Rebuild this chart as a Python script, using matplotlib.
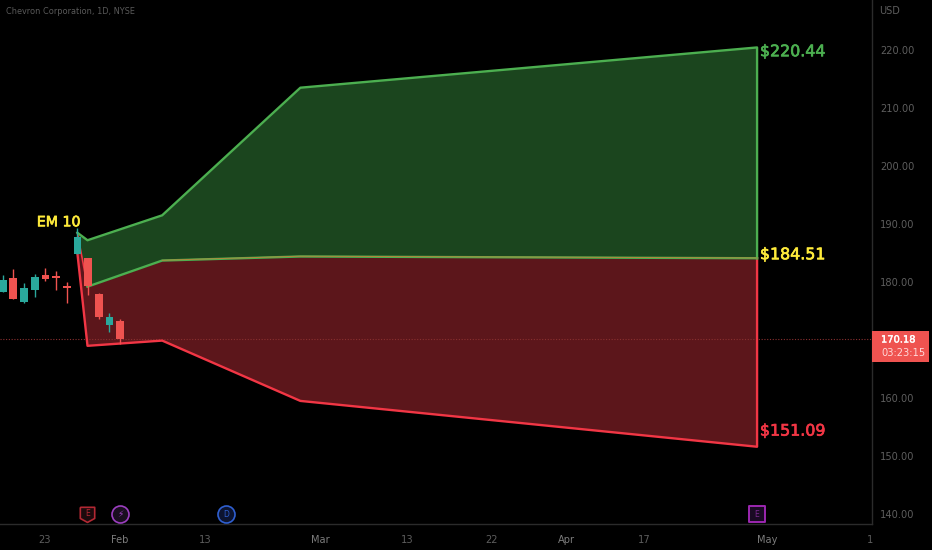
import matplotlib
matplotlib.use("Agg")
import matplotlib.pyplot as plt
import matplotlib.patheffects as pe
from matplotlib.patches import Rectangle

# candles, by bar number
bars = [0, 1, 2, 3, 4, 5, 6, 7, 8, 9, 10, 11]
opens = [178.3, 180.7, 176.5, 178.6, 181.2, 181.0, 179.3, 184.8, 184.1, 178.0, 172.6, 173.2]
closes = [180.3, 177.1, 179.0, 180.8, 180.6, 180.7, 178.9, 187.7, 179.3, 173.9, 173.9, 170.1]
highs = [181.2, 182.2, 179.9, 181.4, 182.5, 181.9, 180.0, 189.3, 184.1, 178.1, 174.6, 173.6]
lows = [178.3, 177.0, 176.4, 177.5, 180.1, 178.7, 176.4, 184.8, 177.8, 173.7, 171.4, 169.3]

# expected move bands
band_x = [7, 7.95, 14.95, 27.9, 70.7]
upper = [188.5, 187.2, 191.5, 213.5, 220.44]
middle = [187.0, 179.2, 183.7, 184.4, 184.1]
lower = [185.0, 169.0, 169.9, 159.5, 151.6]

price_ticks = [140, 150, 160, 180, 190, 200, 210, 220]
date_pos = [3.97, 11, 19, 29.75, 37.9, 45.8, 52.8, 60.1, 71.7, 81.3]
date_labels = ["23", "Feb", "13", "Mar", "13", "22", "Apr", "17", "May", "1"]
month_labels = ["Feb", "Mar", "Apr", "May"]
last_price = 170.18

GREEN = "#4caf50"
RED = "#f23645"
TEAL = "#2aa89c"
CANDLE_RED = "#ef5350"
GREY = "#5e5e5e"

fig = plt.figure(figsize=(9.32, 5.5), dpi=100, facecolor="black")
ax = fig.add_axes([0, 26 / 550, 872 / 932, 524 / 550], facecolor="black")
ax.set_xlim(-0.25, 81.47)
ax.set_ylim(138.28, 228.62)

# bands
ax.fill_between(band_x, middle, upper, color="#1b451e", lw=0, zorder=1)
ax.fill_between(band_x, lower, middle, color="#5c161b", lw=0, zorder=1)
ax.plot(band_x + [band_x[-1]], lower + [middle[-1]], color=RED, lw=1.7, zorder=3)
ax.plot(band_x + [band_x[-1]], upper + [middle[-1]], color=GREEN, lw=1.7, zorder=3)
ax.plot(band_x[1:], middle[1:], color=GREEN, lw=1.7, zorder=4)
ax.plot(band_x[2:], [m + 0.05 for m in middle[2:]], color="#b08a3c", lw=0.7, zorder=4)
ax.plot([band_x[0], band_x[1]], [upper[0], middle[1]], color=RED, lw=1.2, zorder=2)

# last price line
ax.axhline(last_price, color="#8a3030", lw=0.8, ls=(0, (1, 1.5)), zorder=2)

# candles
for b, o, c, h, l in zip(bars, opens, closes, highs, lows):
    col = TEAL if c >= o else CANDLE_RED
    ax.vlines(b, l, h, color=col, lw=1, zorder=5)
    ax.bar(b, abs(c - o), bottom=min(o, c), width=0.72, color=col, lw=0, zorder=5)

# band labels, thin stroke to get the medium weight
def band_label(x, y, s, col, size=11.4):
    t = ax.text(x, y, s, color=col, fontsize=size, va="center", ha="left", zorder=6)
    t.set_path_effects([pe.withStroke(linewidth=0.5, foreground=col)])

band_label(70.97, 219.7, "$220.44", GREEN)
band_label(70.97, 184.7, "$184.51", "#ffeb3b")
band_label(70.97, 154.3, "$151.09", RED)
band_label(3.2, 190.3, "EM 10", "#ffeb3b", 10.2)

# axes
for side in ["top", "left"]:
    ax.spines[side].set_visible(False)
for side in ["right", "bottom"]:
    ax.spines[side].set_color("#2b2b2b")
    ax.spines[side].set_linewidth(1)
ax.yaxis.tick_right()
ax.set_yticks(price_ticks)
ax.set_yticklabels([f"{p:.2f}" for p in price_ticks])
ax.set_xticks(date_pos)
ax.set_xticklabels(date_labels)
ax.tick_params(axis="both", length=0, labelsize=7.1, labelcolor=GREY)
ax.tick_params(axis="y", pad=6)
ax.tick_params(axis="x", pad=8)
for lab in ax.get_xticklabels():
    if lab.get_text() in month_labels:
        lab.set_color("#7c7c7c")

# title and currency
fig.text(6 / 932, 1 - 12 / 550, "Chevron Corporation, 1D, NYSE", color="#5a5a5a", fontsize=5.9, va="center")
fig.text(879 / 932, 1 - 11 / 550, "USD", color=GREY, fontsize=7, va="center")

# last price tag
fig.add_artist(Rectangle((872 / 932, 1 - 362 / 550), 57 / 932, 31 / 550, transform=fig.transFigure,
                         fc=CANDLE_RED, ec="none", zorder=7))
tag_price = fig.text(881 / 932, 1 - 339.5 / 550, f"{last_price:.2f}", color="white", fontsize=7.1, va="center", zorder=8)
tag_price.set_path_effects([pe.withStroke(linewidth=0.3, foreground="white")])
fig.text(881 / 932, 1 - 353 / 550, "03:23:15", color="#ffd9d9", fontsize=7.1, va="center", zorder=8)

# event markers
event_y = 140.0
shield = [(-1, 1), (1, 1), (1, -0.55), (0, -1.1), (-1, -0.55), (-1, 1)]
ax.scatter(7.95, event_y, marker=shield, s=130, fc="#1c0a0d", ec="#b22833", lw=1.2, zorder=6)
ax.text(7.95, event_y + 0.1, "E", color="#b22833", fontsize=5.5, ha="center", va="center", zorder=7)
ax.scatter(11, event_y, marker="o", s=150, fc="#1a0e20", ec="#9c3fc0", lw=1.2, zorder=6)
ax.text(11, event_y, "\u26a1", color="#9c3fc0", fontsize=6.5, ha="center", va="center", zorder=7)
ax.scatter(20.95, event_y, marker="o", s=150, fc="#0c1430", ec="#2f5fd0", lw=1.2, zorder=6)
ax.text(20.95, event_y, "D", color="#2f5fd0", fontsize=5.5, ha="center", va="center", zorder=7)
ax.scatter(70.7, event_y, marker="s", s=130, fc="#1a0a24", ec="#9c27b0", lw=1.4, zorder=6)
ax.text(70.7, event_y, "E", color="#7b2a90", fontsize=5.5, ha="center", va="center", zorder=7)

fig.savefig("out.png", dpi=100, facecolor="black")
